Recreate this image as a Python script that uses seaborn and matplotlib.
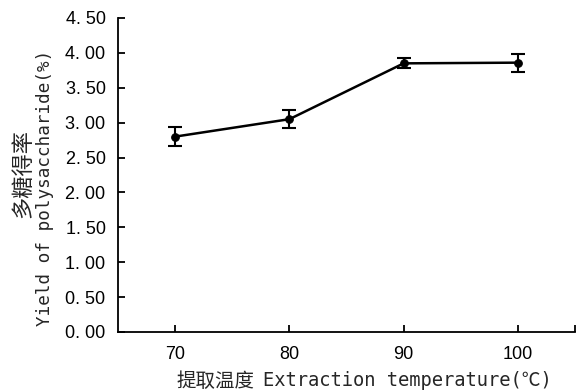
import matplotlib
matplotlib.use("Agg")
import matplotlib.pyplot as plt
import seaborn as sns
import pandas as pd
import numpy as np

temperature = [70, 80, 90, 100]
yield_pct = [2.80, 3.05, 3.85, 3.86]
yield_err = [0.14, 0.13, 0.07, 0.13]
y_ticks = [0.0, 0.5, 1.0, 1.5, 2.0, 2.5, 3.0, 3.5, 4.0, 4.5]
x_ticks = [70, 80, 90, 100]

sns.set_style("ticks")
plt.rcParams['font.family'] = ['Liberation Sans', 'Noto Sans CJK SC']

df = pd.DataFrame({"temp": temperature, "yield": yield_pct, "err": yield_err})

W, H = 577, 391
fig = plt.figure(figsize=(W / 100, H / 100), dpi=100)
ax = fig.add_axes([118 / W, (H - 332) / H, 457 / W, 314 / H])
sns.lineplot(data=df, x="temp", y="yield", ax=ax, color="black", linewidth=1.8,
             marker="o", markersize=5.5, markeredgecolor="black")
ax.errorbar(df["temp"], df["yield"], yerr=df["err"], fmt="none", ecolor="black",
            elinewidth=1.5, capsize=5, capthick=1.5)

ax.set_xlim(65, 105)
ax.set_ylim(0, 4.5)
ax.set_xticks(x_ticks + [105])
ax.set_xticklabels([str(t) for t in x_ticks] + [""], fontsize=13)
ax.set_yticks(y_ticks)
ax.set_yticklabels([f"{v:.2f}".replace(".", ". ") for v in y_ticks], fontsize=13)
ax.tick_params(direction="in", length=5, width=1.3, colors="black")
ax.tick_params(axis="x", pad=10)
ax.tick_params(axis="y", pad=9)
for s in ["top", "right"]:
    ax.spines[s].set_visible(False)
for s in ["left", "bottom"]:
    ax.spines[s].set_linewidth(1.3)
    ax.spines[s].set_color("black")
ax.set_xlabel("")
ax.set_ylabel("")

mono_cjk = ['DejaVu Sans Mono', 'Noto Sans CJK SC']
# x-axis title: Chinese part + English part
fig.text(176 / W, (H - 381) / H, "提取温度", fontsize=14, family=mono_cjk,
         ha="left", va="center")
fig.text(263 / W, (H - 381) / H, "Extraction temperature(℃)", fontsize=13.5,
         family=mono_cjk, ha="left", va="center")
# y-axis title: two rotated lines
fig.text(23 / W, (H - 174) / H, "多糖得率", fontsize=16, family=mono_cjk,
         rotation=90, ha="center", va="center")
fig.text(45 / W, (H - 188) / H, "Yield of polysaccharide(%)", fontsize=12.7,
         family=mono_cjk, rotation=90, ha="center", va="center")

fig.savefig("out.png", dpi=100)
